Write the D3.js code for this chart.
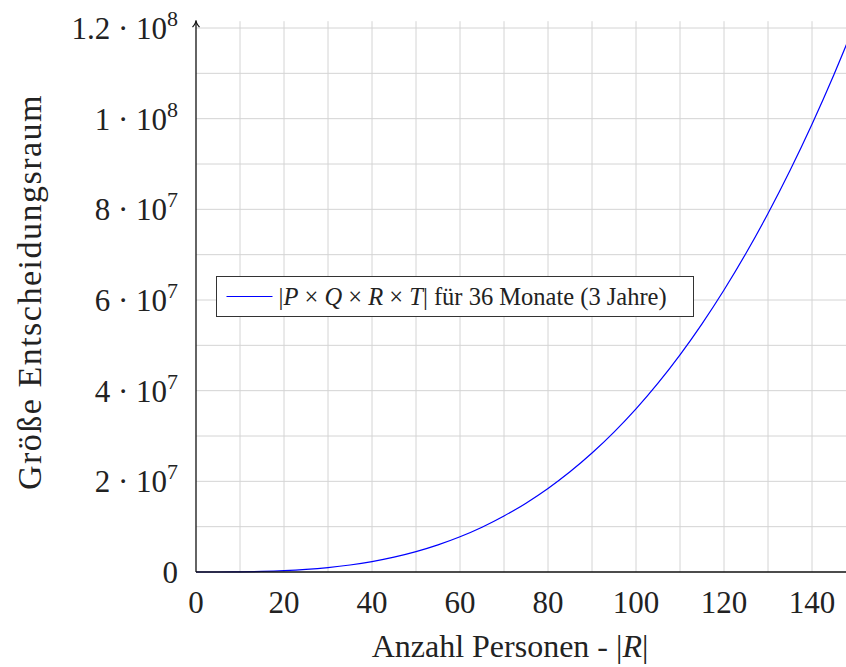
<!DOCTYPE html>
<html>
<head>
<meta charset="utf-8">
<script src="https://cdn.jsdelivr.net/npm/d3@7"></script>
<style>
  body { margin: 0; background: #fff; }
  svg text { font-family: "Liberation Serif", "DejaVu Serif", serif; fill: #222; }
</style>
</head>
<body>
<div id="chart" style="width:846px;height:667px"></div>
<script>
// Anzahl Personen |R| und gelesene Werte der Kurve
const personen = [0, 5, 10, 15, 20, 25, 30, 35, 40, 45, 50, 55, 60, 65, 70, 75,
    80, 85, 90, 95, 100, 105, 110, 115, 120, 125, 130, 135, 140, 145, 150];
const groesse = [0, 4500, 36000, 121500, 288000, 562500, 972000, 1543500, 2304000,
    3280500, 4500000, 5989500, 7776000, 9886500, 12348000, 15187500, 18432000,
    22108500, 26244000, 30865500, 36000000, 41674500, 47916000, 54751500, 62208000,
    70312500, 79092000, 88573500, 98784000, 109750500, 121500000];

const xTicks = [0, 20, 40, 60, 80, 100, 120, 140];
const yTicks = [0, 2e7, 4e7, 6e7, 8e7, 1e8, 1.2e8];
const xGrid = d3.range(0, 151, 10);
const yGrid = d3.range(0, 1.21e8, 1e7);

const xTitle = 'Anzahl Personen - ';
const yTitle = 'Größe Entscheidungsraum';

const width = 846, height = 667;
const margin = {left: 196, bottom: 95};

const svg = d3.select('#chart').append('svg')
    .attr('width', width)
    .attr('height', height);

const xScale = d3.scaleLinear()
    .domain([0, 150])
    .range([margin.left, margin.left + 150 * 4.4]);

const yScale = d3.scaleLinear()
    .domain([0, 1.2e8])
    .range([height - margin.bottom, 28]);

const yTop = yScale(1.215e8);

// grid
const grid = svg.append('g').attr('stroke', '#d4d4d4').attr('stroke-width', 1);
grid.selectAll('line.v').data(xGrid.slice(1)).enter()
    .append('line')
    .attr('x1', d => xScale(d)).attr('x2', d => xScale(d))
    .attr('y1', yScale(0)).attr('y2', yTop);
grid.selectAll('line.h').data(yGrid.slice(1)).enter()
    .append('line')
    .attr('x1', xScale(0)).attr('x2', width)
    .attr('y1', d => yScale(d)).attr('y2', d => yScale(d));

// curve
const line = d3.line()
    .x((d, i) => xScale(personen[i]))
    .y(d => yScale(d))
    .curve(d3.curveMonotoneX);

svg.append('path')
    .datum(groesse)
    .attr('fill', 'none')
    .attr('stroke', '#0000ff')
    .attr('stroke-width', 1.2)
    .attr('d', line);

// axes lines
svg.append('line')
    .attr('x1', xScale(0)).attr('x2', width)
    .attr('y1', yScale(0)).attr('y2', yScale(0))
    .attr('stroke', '#111').attr('stroke-width', 1.3);
svg.append('line')
    .attr('x1', xScale(0)).attr('x2', xScale(0))
    .attr('y1', yScale(0)).attr('y2', yTop)
    .attr('stroke', '#111').attr('stroke-width', 1.3);
svg.append('path')
    .attr('d', `M${xScale(0) - 3.5},${yTop + 6} Q${xScale(0)},${yTop + 2} ${xScale(0)},${yTop - 1} Q${xScale(0)},${yTop + 2} ${xScale(0) + 3.5},${yTop + 6}`)
    .attr('fill', 'none').attr('stroke', '#111').attr('stroke-width', 1.2);

// x tick labels
svg.append('g').selectAll('text').data(xTicks).enter()
    .append('text')
    .attr('x', d => xScale(d))
    .attr('y', yScale(0) + 41)
    .attr('text-anchor', 'middle')
    .attr('font-size', 31)
    .text(d => d);

// y tick labels
const yLab = svg.append('g').selectAll('text').data(yTicks).enter()
    .append('text')
    .attr('x', 178)
    .attr('y', d => yScale(d) + 11)
    .attr('text-anchor', 'end')
    .attr('font-size', 31);
yLab.each(function (d) {
    const t = d3.select(this);
    if (d === 0) { t.text('0'); return; }
    const exp = Math.floor(Math.log10(d));
    const mant = +(d / Math.pow(10, exp)).toFixed(1);
    t.append('tspan').text(mant + ' · 10');
    t.append('tspan').attr('dy', -13).attr('font-size', 22).text(exp);
});

// axis titles
const xt = svg.append('text')
    .attr('x', 510)
    .attr('y', 657)
    .attr('text-anchor', 'middle')
    .attr('font-size', 32);
xt.append('tspan').text(xTitle + '|');
xt.append('tspan').attr('font-style', 'italic').text('R');
xt.append('tspan').text('|');

svg.append('text')
    .attr('transform', 'translate(41,292) rotate(-90)')
    .attr('text-anchor', 'middle')
    .attr('font-size', 34)
    .attr('letter-spacing', 1.5)
    .text(yTitle);

// legend
const leg = svg.append('g').attr('transform', 'translate(216.5,276.5)');
leg.append('rect')
    .attr('width', 477).attr('height', 40)
    .attr('fill', '#fff').attr('stroke', '#333').attr('stroke-width', 1);
leg.append('line')
    .attr('x1', 10).attr('x2', 56)
    .attr('y1', 20).attr('y2', 20)
    .attr('stroke', '#0000ff').attr('stroke-width', 1);
const lt = leg.append('text')
    .attr('x', 62).attr('y', 28)
    .attr('font-size', 24.5);
const parts = [['|', 0], ['P', 1], [' × ', 0], ['Q', 1], [' × ', 0], ['R', 1], [' × ', 0], ['T', 1], ['| für 36 Monate (3 Jahre)', 0]];
parts.forEach(p => {
    lt.append('tspan').attr('font-style', p[1] ? 'italic' : 'normal').text(p[0]);
});
</script>
</body>
</html>
